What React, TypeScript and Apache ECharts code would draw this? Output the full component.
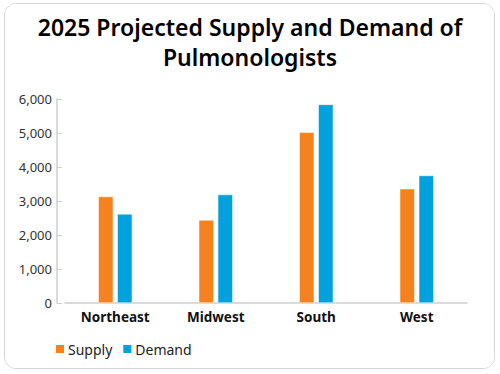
import React, { useEffect, useRef } from "react";
import * as echarts from "echarts";

const categories = ["Northeast", "Midwest", "South", "West"];
const supply = [3130, 2440, 5020, 3360];
const demand = [2620, 3190, 5840, 3750];
const yTicks = { min: 0, max: 6000, interval: 1000 };

export default function App() {
  const ref = useRef<HTMLDivElement>(null);
  useEffect(() => {
    const chart = echarts.init(ref.current!, null, { renderer: "svg" });
    chart.setOption({
      animation: false,
      backgroundColor: "#ffffff",
      title: {
        text: "2025 Projected Supply and Demand of\nPulmonologists",
        left: "center",
        top: 7,
        textStyle: {
          fontFamily: "Noto Sans",
          fontWeight: 600,
          fontSize: 23,
          lineHeight: 30,
          color: "#000000",
        },
      },
      legend: {
        left: 49,
        top: 337,
        itemWidth: 10,
        itemHeight: 10,
        itemGap: 9,
        icon: "rect",
        textStyle: { fontFamily: "Noto Sans", fontSize: 14, color: "#222", padding: [0, 0, 0, -2] },
        data: ["Supply", "Demand"],
      },
      grid: { left: 65, right: 33, top: 99, bottom: 71 },
      xAxis: {
        type: "category",
        data: categories,
        axisLine: { lineStyle: { color: "#d0d0d0", width: 1.5 } },
        axisTick: { show: false },
        axisLabel: {
          fontFamily: "Noto Sans",
          fontWeight: "bold",
          fontSize: 13.5,
          color: "#111",
          margin: 7,
        },
      },
      yAxis: {
        type: "value",
        min: yTicks.min,
        max: yTicks.max,
        interval: yTicks.interval,
        offset: 8,
        axisLine: { show: true, lineStyle: { color: "#d0d0d0", width: 1.5 } },
        axisTick: { show: true, inside: true, length: 5, lineStyle: { color: "#d0d0d0" } },
        splitLine: { show: false },
        axisLabel: {
          fontFamily: "Noto Sans",
          fontSize: 13,
          color: "#333",
          margin: 5,
          formatter: (v: number) => v.toLocaleString("en-US"),
        },
      },
      series: [
        {
          name: "Supply",
          type: "bar",
          data: supply,
          barWidth: 15,
          barGap: "27%",
          itemStyle: { color: "#F5821F", borderColor: "#ffffff", borderWidth: 0.5 },
        },
        {
          name: "Demand",
          type: "bar",
          data: demand,
          barWidth: 15,
          itemStyle: { color: "#00A1DC", borderColor: "#ffffff", borderWidth: 0.5 },
        },
      ],
    });
    return () => chart.dispose();
  }, []);
  return (
    <div
      style={{
        position: "fixed",
        left: 0,
        top: 0,
        width: 500,
        height: 374,
        background: "#ffffff",
      }}
    >
      <div
        style={{
          position: "absolute",
          left: 4,
          top: 3,
          width: 489,
          height: 364,
          border: "1px solid #d6d6d6",
          borderRadius: 12,
          overflow: "hidden",
        }}
      >
        <div ref={ref} style={{ position: "absolute", left: -5, top: -4, width: 500, height: 374 }} />
      </div>
    </div>
  );
}
